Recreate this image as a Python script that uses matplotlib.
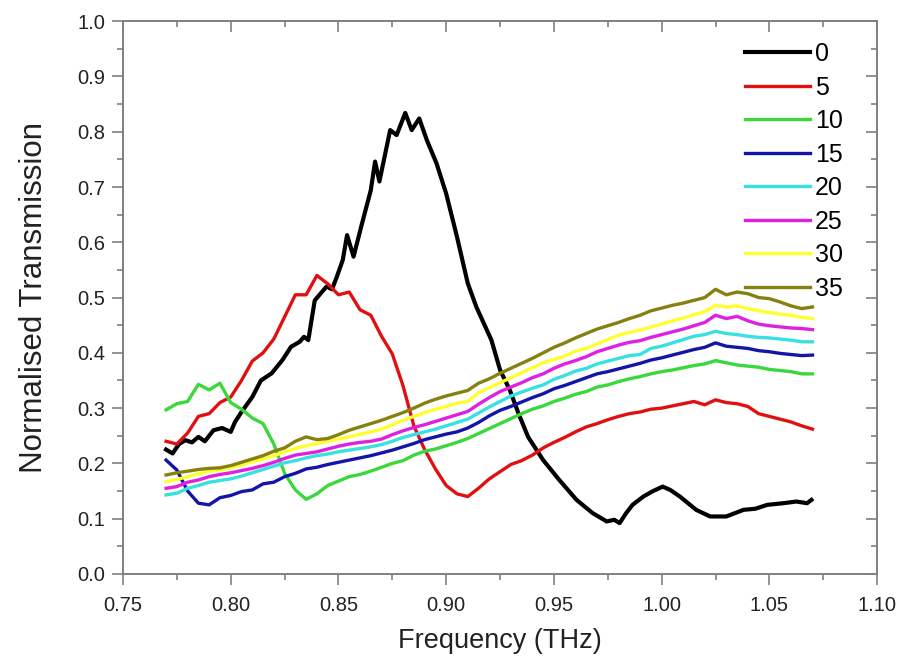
import numpy as np
import matplotlib
matplotlib.use("Agg")
import matplotlib.pyplot as plt
from matplotlib.ticker import MultipleLocator

plt.rcParams['font.family'] = ['Liberation Sans', 'DejaVu Sans']

# shared frequency grid (THz) for the coloured traces
freq = np.round(np.arange(0.770, 1.0701, 0.005), 3)

# trace "0" has its own, finer sampling around the peak
freq_0 = [0.770, 0.773, 0.776, 0.779, 0.782, 0.785, 0.788, 0.792, 0.796, 0.800,
          0.802, 0.805, 0.810, 0.814, 0.819, 0.824, 0.828, 0.832, 0.834, 0.836,
          0.839, 0.8445, 0.847, 0.849, 0.852, 0.854, 0.857, 0.861, 0.865, 0.867,
          0.869, 0.874, 0.877, 0.881, 0.884, 0.8875, 0.891, 0.8955, 0.900, 0.905,
          0.910, 0.914, 0.921, 0.925, 0.9295, 0.9335, 0.938, 0.945, 0.9525, 0.9605,
          0.968, 0.9745, 0.978, 0.9805, 0.9835, 0.9865, 0.9915, 0.996, 1.0005, 1.004,
          1.0085, 1.016, 1.0225, 1.030, 1.038, 1.0435, 1.049, 1.0565, 1.0625, 1.0675,
          1.0695]
trans_0 = [0.225, 0.218, 0.235, 0.242, 0.238, 0.248, 0.240, 0.260, 0.264, 0.257,
           0.275, 0.293, 0.320, 0.350, 0.363, 0.387, 0.411, 0.420, 0.429, 0.423,
           0.495, 0.520, 0.515, 0.535, 0.568, 0.613, 0.574, 0.635, 0.694, 0.746,
           0.710, 0.803, 0.794, 0.834, 0.803, 0.824, 0.785, 0.743, 0.688, 0.610,
           0.526, 0.483, 0.423, 0.369, 0.333, 0.291, 0.248, 0.206, 0.170, 0.134,
           0.110, 0.095, 0.098, 0.092, 0.110, 0.125, 0.140, 0.150, 0.158, 0.152,
           0.140, 0.116, 0.104, 0.104, 0.116, 0.118, 0.125, 0.128, 0.131, 0.128,
           0.134]

trans_5 = [0.240, 0.235, 0.255, 0.285, 0.290, 0.310, 0.320, 0.350, 0.385, 0.400,
           0.425, 0.465, 0.505, 0.505, 0.540, 0.525, 0.505, 0.510, 0.478, 0.468,
           0.430, 0.398, 0.340, 0.268, 0.225, 0.190, 0.160, 0.145, 0.140, 0.155,
           0.172, 0.185, 0.198, 0.205, 0.215, 0.228, 0.238, 0.247, 0.257, 0.266,
           0.272, 0.279, 0.285, 0.290, 0.293, 0.298, 0.300, 0.304, 0.308, 0.312,
           0.306, 0.315, 0.310, 0.308, 0.303, 0.290, 0.285, 0.280, 0.275, 0.268,
           0.262]
trans_10 = [0.297, 0.308, 0.312, 0.343, 0.333, 0.345, 0.310, 0.298, 0.282, 0.272,
            0.235, 0.182, 0.152, 0.135, 0.145, 0.160, 0.168, 0.176, 0.180, 0.186,
            0.193, 0.200, 0.205, 0.215, 0.222, 0.226, 0.232, 0.238, 0.245, 0.254,
            0.263, 0.272, 0.281, 0.290, 0.298, 0.304, 0.312, 0.318, 0.325, 0.330,
            0.338, 0.342, 0.348, 0.353, 0.357, 0.362, 0.366, 0.369, 0.373, 0.377,
            0.380, 0.386, 0.382, 0.378, 0.376, 0.374, 0.370, 0.368, 0.366, 0.362,
            0.362]
trans_15 = [0.206, 0.188, 0.150, 0.128, 0.125, 0.138, 0.142, 0.149, 0.152, 0.163,
            0.166, 0.176, 0.182, 0.190, 0.193, 0.198, 0.202, 0.206, 0.210, 0.214,
            0.219, 0.224, 0.230, 0.236, 0.243, 0.248, 0.253, 0.257, 0.264, 0.274,
            0.286, 0.296, 0.303, 0.311, 0.319, 0.326, 0.335, 0.341, 0.348, 0.355,
            0.362, 0.366, 0.371, 0.376, 0.381, 0.387, 0.391, 0.396, 0.401, 0.406,
            0.410, 0.418, 0.412, 0.410, 0.408, 0.404, 0.402, 0.399, 0.397, 0.395,
            0.396]
trans_20 = [0.143, 0.146, 0.155, 0.160, 0.166, 0.169, 0.172, 0.177, 0.183, 0.189,
            0.195, 0.201, 0.205, 0.210, 0.214, 0.217, 0.221, 0.224, 0.227, 0.230,
            0.234, 0.240, 0.247, 0.252, 0.257, 0.262, 0.268, 0.274, 0.280, 0.291,
            0.302, 0.312, 0.322, 0.329, 0.336, 0.342, 0.352, 0.359, 0.367, 0.372,
            0.380, 0.385, 0.390, 0.395, 0.397, 0.408, 0.412, 0.418, 0.424, 0.430,
            0.433, 0.439, 0.435, 0.433, 0.430, 0.428, 0.427, 0.425, 0.423, 0.420,
            0.420]
trans_25 = [0.155, 0.158, 0.166, 0.170, 0.176, 0.180, 0.183, 0.187, 0.191, 0.196,
            0.202, 0.209, 0.215, 0.218, 0.221, 0.226, 0.231, 0.235, 0.238, 0.240,
            0.244, 0.252, 0.259, 0.265, 0.270, 0.276, 0.282, 0.288, 0.294, 0.307,
            0.319, 0.330, 0.338, 0.346, 0.355, 0.362, 0.372, 0.380, 0.386, 0.393,
            0.402, 0.408, 0.414, 0.419, 0.422, 0.428, 0.433, 0.438, 0.443, 0.449,
            0.455, 0.468, 0.462, 0.466, 0.458, 0.452, 0.449, 0.447, 0.445, 0.444,
            0.442]
trans_30 = [0.167, 0.171, 0.176, 0.181, 0.186, 0.188, 0.192, 0.197, 0.203, 0.208,
            0.214, 0.221, 0.227, 0.232, 0.236, 0.240, 0.244, 0.248, 0.253, 0.257,
            0.262, 0.270, 0.278, 0.285, 0.292, 0.298, 0.303, 0.309, 0.312, 0.328,
            0.337, 0.346, 0.355, 0.364, 0.373, 0.382, 0.388, 0.394, 0.403, 0.408,
            0.416, 0.424, 0.432, 0.437, 0.441, 0.447, 0.452, 0.458, 0.463, 0.469,
            0.474, 0.486, 0.483, 0.485, 0.480, 0.476, 0.473, 0.470, 0.468, 0.464,
            0.462]
trans_35 = [0.179, 0.183, 0.186, 0.189, 0.191, 0.192, 0.196, 0.202, 0.208, 0.214,
            0.222, 0.228, 0.240, 0.248, 0.243, 0.245, 0.252, 0.260, 0.266, 0.272,
            0.278, 0.285, 0.292, 0.300, 0.309, 0.316, 0.322, 0.327, 0.332, 0.345,
            0.353, 0.363, 0.372, 0.381, 0.390, 0.400, 0.410, 0.418, 0.427, 0.435,
            0.443, 0.449, 0.455, 0.462, 0.468, 0.476, 0.481, 0.486, 0.490, 0.495,
            0.500, 0.515, 0.505, 0.510, 0.507, 0.500, 0.498, 0.492, 0.485, 0.480,
            0.483]

labels = ["0", "5", "10", "15", "20", "25", "30", "35"]
colors = ["#000000", "#e01010", "#3ad83a", "#1414a8", "#38e0e0", "#e020e0", "#ffff30", "#858010"]

fig = plt.figure(figsize=(9.01, 6.62), dpi=100)
ax = fig.add_axes([0.1365, 0.133, 0.837, 0.835])

ax.plot(freq_0, trans_0, color=colors[0], lw=3.0, label=labels[0])
for ys, lab, c in zip([trans_5, trans_10, trans_15, trans_20, trans_25, trans_30, trans_35],
                      labels[1:], colors[1:]):
    ax.plot(freq, ys, color=c, lw=2.4, label=lab)

ax.set_xlim(0.75, 1.10)
ax.set_ylim(0.0, 1.0)
ax.xaxis.set_major_locator(MultipleLocator(0.05))
ax.xaxis.set_minor_locator(MultipleLocator(0.025))
ax.yaxis.set_major_locator(MultipleLocator(0.1))
ax.yaxis.set_minor_locator(MultipleLocator(0.05))
ax.xaxis.set_major_formatter(plt.FormatStrFormatter("%.2f"))
ax.yaxis.set_major_formatter(plt.FormatStrFormatter("%.1f"))

gray = "#808080"
for sp in ax.spines.values():
    sp.set_color(gray)
    sp.set_linewidth(1.4)
ax.tick_params(which="major", direction="out", length=8, width=1.2, color=gray,
               labelsize=14.5, labelcolor="#222222", pad=5)
ax.tick_params(axis="x", which="major", pad=8)
ax.tick_params(which="minor", direction="out", length=4.5, width=1.2, color=gray)

# inward ticks on top and right
top = ax.secondary_xaxis("top")
top.xaxis.set_major_locator(MultipleLocator(0.05))
top.xaxis.set_minor_locator(MultipleLocator(0.025))
top.tick_params(which="major", direction="in", length=8, width=1.2, color=gray, labeltop=False)
top.tick_params(which="minor", direction="in", length=4.5, width=1.2, color=gray)
top.spines["top"].set_visible(False)
right = ax.secondary_yaxis("right")
right.yaxis.set_major_locator(MultipleLocator(0.1))
right.yaxis.set_minor_locator(MultipleLocator(0.05))
right.tick_params(which="major", direction="in", length=8, width=1.2, color=gray, labelright=False)
right.tick_params(which="minor", direction="in", length=4.5, width=1.2, color=gray)
right.spines["right"].set_visible(False)

ax.set_xlabel("Frequency (THz)", fontsize=19.5, color="#222222", labelpad=9)
ax.set_ylabel("Normalised Transmission", fontsize=22.5, color="#222222", labelpad=20)

ax.legend(loc="upper right", bbox_to_anchor=(0.968, 0.98), frameon=False,
          fontsize=18, handlelength=2.6, handletextpad=0.2, labelspacing=0.38,
          borderaxespad=0)

fig.savefig("out.png", dpi=100)
